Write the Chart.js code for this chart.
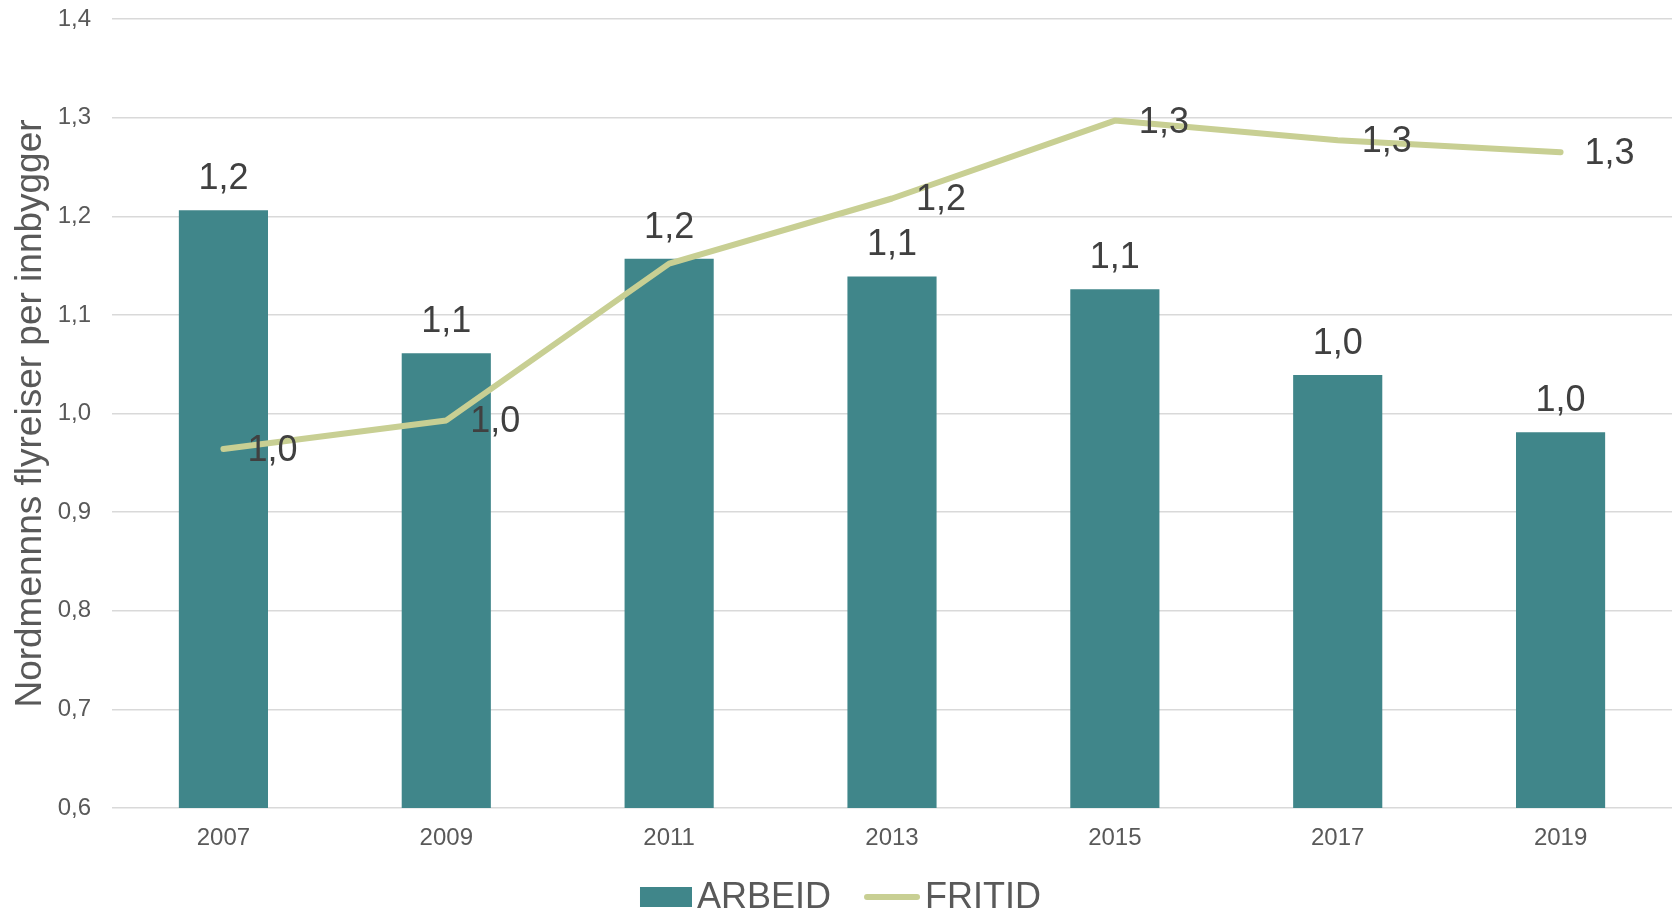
<!DOCTYPE html>
<html>
<head>
<meta charset="utf-8">
<script src="https://cdn.jsdelivr.net/npm/chart.js@4"></script>
<style>
  body { margin: 0; background: #fff; }
  #wrap { width: 1677px; height: 914px; }
</style>
</head>
<body>
<div id="wrap"><canvas id="flyChart" width="1677" height="914"></canvas></div>
<script>
const years = ['2007', '2009', '2011', '2013', '2015', '2017', '2019'];
const arbeid = [1.206, 1.061, 1.157, 1.139, 1.126, 1.039, 0.981];
const fritid = [0.964, 0.993, 1.152, 1.218, 1.297, 1.277, 1.265];
const yTicks = [0.6, 0.7, 0.8, 0.9, 1.0, 1.1, 1.2, 1.3, 1.4];
// linjeverdien for 2011 er ikke vist i originalen
const hiddenFritidLabels = ['2011'];

const FONT = "'Liberation Sans', Arial, sans-serif";
const fmt = v => v.toFixed(1).replace('.', ',');

// verdier over søyler og til høyre for linjepunkter
const valueLabels = {
    id: 'valueLabels',
    afterDatasetsDraw(chart) {
        const ctx = chart.ctx;
        ctx.save();
        ctx.font = '36px ' + FONT;
        ctx.fillStyle = '#404040';
        chart.data.datasets.forEach((ds, i) => {
            const meta = chart.getDatasetMeta(i);
            meta.data.forEach((el, j) => {
                const txt = fmt(ds.data[j]);
                if (ds.type === 'bar') {
                    ctx.textAlign = 'center';
                    ctx.textBaseline = 'alphabetic';
                    ctx.fillText(txt, el.x, el.y - 21);
                } else {
                    if (hiddenFritidLabels.includes(years[j])) return;
                    ctx.textAlign = 'left';
                    ctx.textBaseline = 'middle';
                    ctx.fillText(txt, el.x + 24, el.y + 2);
                }
            });
        });
        ctx.restore();
    }
};

// egen tegnforklaring nederst
const bottomLegend = {
    id: 'bottomLegend',
    afterDraw(chart) {
        const ctx = chart.ctx;
        const ds = chart.data.datasets;
        ctx.save();
        ctx.font = '36px ' + FONT;
        const w0 = ctx.measureText(ds[0].label).width;
        const w1 = ctx.measureText(ds[1].label).width;
        const total = 52 + 5 + w0 + 33 + 56 + 5 + w1;
        let x = chart.width / 2 + 2 - total / 2;
        const y = 897;
        ctx.fillStyle = ds[0].backgroundColor;
        ctx.fillRect(x, y - 10, 52, 20);
        x += 52 + 5;
        ctx.fillStyle = '#595959';
        ctx.textAlign = 'left';
        ctx.textBaseline = 'alphabetic';
        ctx.fillText(ds[0].label, x, 908);
        x += w0 + 33;
        ctx.strokeStyle = ds[1].borderColor;
        ctx.lineWidth = 6;
        ctx.lineCap = 'round';
        ctx.beginPath();
        ctx.moveTo(x + 3, y);
        ctx.lineTo(x + 53, y);
        ctx.stroke();
        x += 56 + 5;
        ctx.fillText(ds[1].label, x, 908);
        ctx.restore();
    }
};

const ctx = document.getElementById('flyChart').getContext('2d');
new Chart(ctx, {
    data: {
        labels: years,
        datasets: [{
            type: 'bar',
            label: 'ARBEID',
            data: arbeid,
            backgroundColor: '#40868a',
            categoryPercentage: 1,
            barPercentage: 0.4,
            order: 1
        }, {
            type: 'line',
            label: 'FRITID',
            data: fritid,
            borderColor: '#c8cf93',
            backgroundColor: '#c8cf93',
            borderWidth: 6,
            borderCapStyle: 'round',
            borderJoinStyle: 'round',
            pointRadius: 0,
            tension: 0,
            order: 0
        }]
    },
    options: {
        responsive: false,
        animation: false,
        layout: {
            padding: { top: 19, right: 5, bottom: 60, left: 0 }
        },
        plugins: {
            legend: { display: false },
            tooltip: { enabled: false }
        },
        scales: {
            x: {
                grid: { display: false, drawTicks: false },
                border: { display: false },
                ticks: {
                    color: '#595959',
                    font: { family: FONT, size: 24 },
                    padding: 16
                },
                afterFit(scale) { scale.height = 46; }
            },
            y: {
                min: 0.6,
                max: 1.4,
                afterBuildTicks(scale) {
                    scale.ticks = yTicks.map(v => ({ value: v }));
                },
                grid: { color: '#d9d9d9', lineWidth: 1.5, drawTicks: false },
                border: { display: false },
                ticks: {
                    color: '#595959',
                    font: { family: FONT, size: 24 },
                    padding: 21,
                    callback: v => fmt(v)
                },
                title: {
                    display: true,
                    text: 'Nordmennns flyreiser per innbygger',
                    color: '#595959',
                    font: { family: FONT, size: 37 },
                    padding: { top: 9, bottom: 0 }
                },
                afterFit(scale) {
                    scale.width = 112;
                    scale.paddingTop = 0;
                    scale.paddingBottom = 0;
                }
            }
        }
    },
    plugins: [valueLabels, bottomLegend]
});
</script>
</body>
</html>
